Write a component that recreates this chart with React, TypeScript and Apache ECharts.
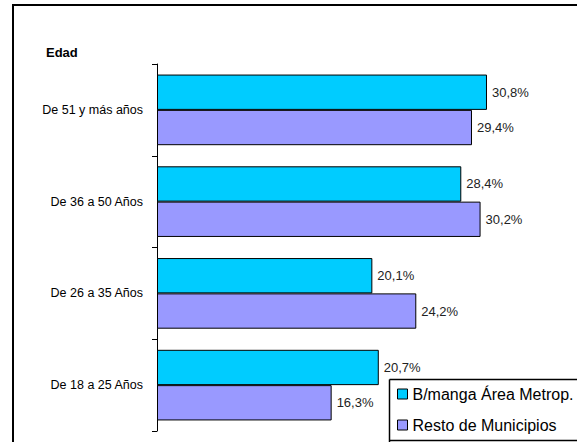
import React, { useEffect, useRef } from "react";
import * as echarts from "echarts";

const categories = ["De 51 y más años", "De 36 a 50 Años", "De 26 a 35 Años", "De 18 a 25 Años"];
const seriesNames = ["B/manga Área Metrop.", "Resto de Municipios"];
const metroValues = [30.8, 28.4, 20.1, 20.7];
const restoValues = [29.4, 30.2, 24.2, 16.3];
const axisTitle = "Edad";

const fmt = (v: number) => v.toFixed(1).replace(".", ",") + "%";

export default function App() {
  const ref = useRef<HTMLDivElement>(null);
  useEffect(() => {
    if (!ref.current) return;
    const chart = echarts.init(ref.current, undefined, { renderer: "svg" });
    const font = "Liberation Sans, Arial, sans-serif";
    const valueLabel = {
      show: true,
      position: "right",
      distance: 5,
      fontSize: 13,
      color: "#222",
      fontFamily: font,
      formatter: (p: any) => fmt(p.value),
    };
    chart.setOption({
      animation: false,
      backgroundColor: "#ffffff",
      textStyle: { fontFamily: font },
      grid: { left: 157, top: 64, right: 12.86, bottom: 11, containLabel: false },
      xAxis: { type: "value", min: 0, max: 38, show: false },
      yAxis: {
        type: "category",
        data: categories,
        inverse: true,
        axisLine: { show: true, lineStyle: { color: "#000", width: 1 } },
        axisTick: { show: true, length: 5, lineStyle: { color: "#000" } },
        axisLabel: { color: "#000", fontSize: 12.5, margin: 14, fontFamily: font },
        splitLine: { show: false },
      },
      legend: {
        orient: "vertical",
        left: 389,
        top: 379,
        height: 62,
        borderWidth: 0,
        padding: [7, 0, 7, 8],
        itemGap: 15,
        itemWidth: 10,
        itemHeight: 10,
        icon: "rect",
        itemStyle: { borderColor: "#000", borderWidth: 1 },
        textStyle: { fontSize: 16, color: "#000", fontFamily: font },
        data: seriesNames,
      },
      graphic: [
        {
          type: "rect",
          shape: { x: 13, y: 5, width: 700, height: 600 },
          style: { fill: "none", stroke: "#000", lineWidth: 2 },
          silent: true,
        },
        {
          type: "line",
          shape: { x1: 389.5, y1: 379.5, x2: 700, y2: 379.5 },
          style: { stroke: "#000", lineWidth: 1.5 },
          silent: true,
        },
        {
          type: "line",
          shape: { x1: 389.5, y1: 379.5, x2: 389.5, y2: 442 },
          style: { stroke: "#000", lineWidth: 1.5 },
          silent: true,
        },
        {
          type: "line",
          shape: { x1: 389.5, y1: 440.5, x2: 700, y2: 440.5 },
          style: { stroke: "#000", lineWidth: 1.5 },
          silent: true,
        },
        {
          type: "text",
          x: 46,
          y: 46,
          style: { text: axisTitle, font: "bold 13px " + font, fill: "#000" },
        },
      ],
      series: [
        {
          name: seriesNames[0],
          type: "bar",
          data: metroValues,
          barGap: "0%",
          barCategoryGap: "23%",
          itemStyle: { color: "#00CCFF", borderColor: "#000", borderWidth: 1 },
          label: valueLabel,
        },
        {
          name: seriesNames[1],
          type: "bar",
          data: restoValues,
          barGap: "0%",
          barCategoryGap: "23%",
          itemStyle: { color: "#9999FF", borderColor: "#000", borderWidth: 1 },
          label: valueLabel,
        },
      ],
    });
    return () => chart.dispose();
  }, []);
  return (
    <div
      ref={ref}
      style={{ position: "fixed", left: 0, top: 0, width: 577, height: 442 }}
    />
  );
}
